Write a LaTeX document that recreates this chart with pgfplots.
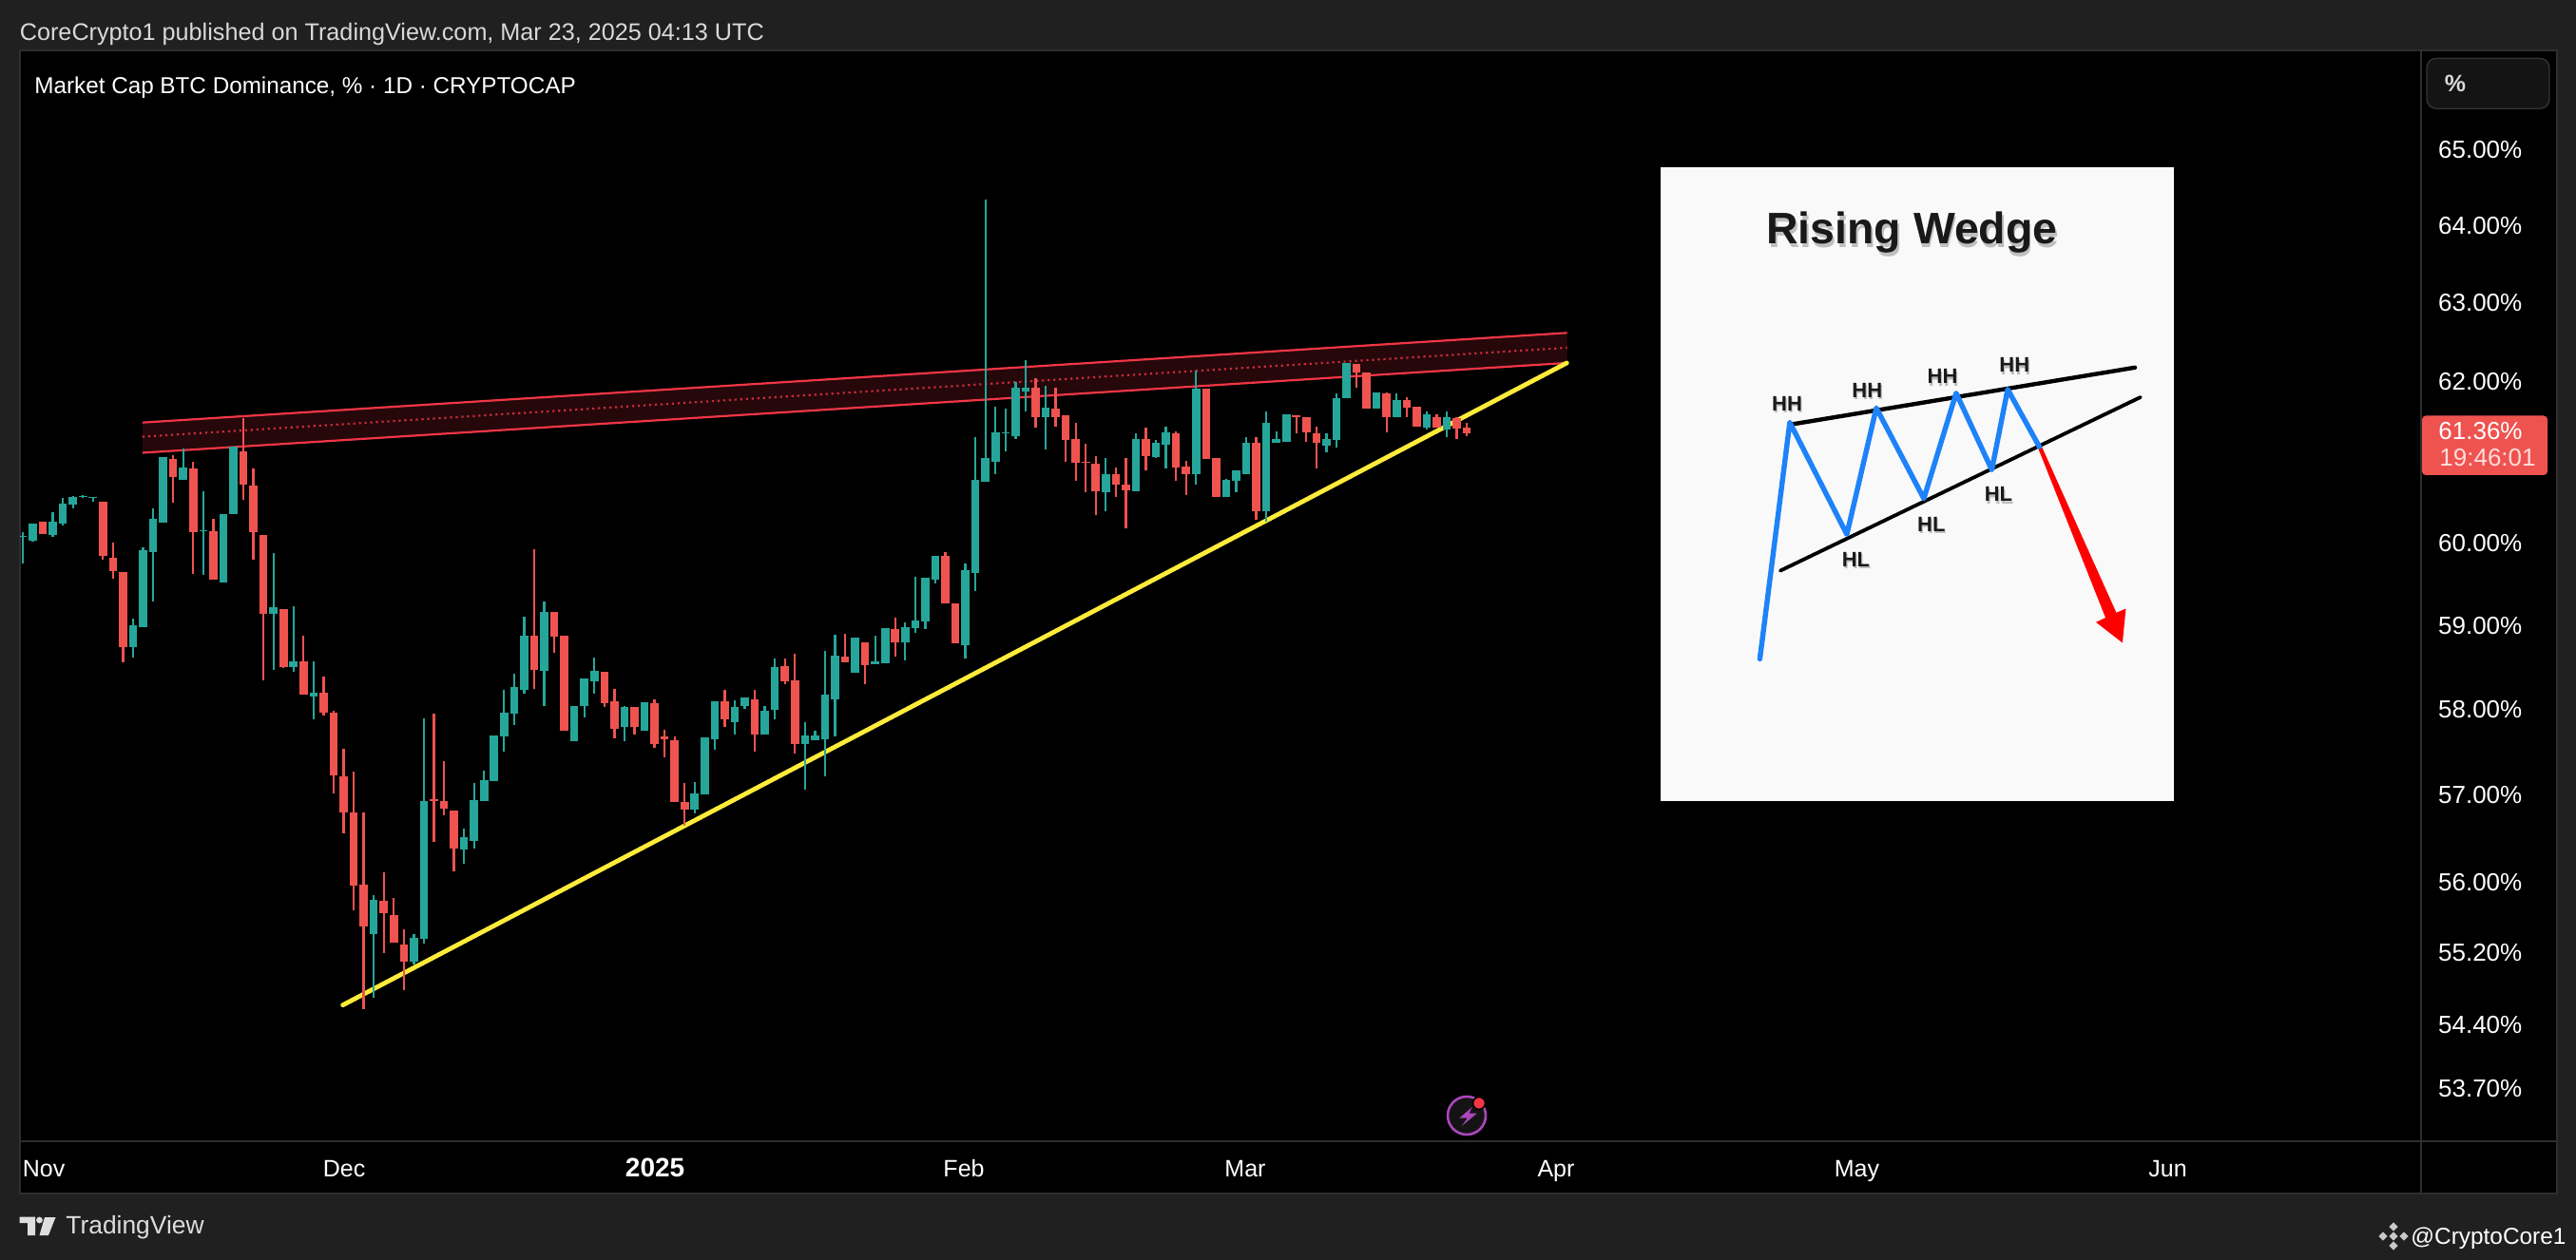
\documentclass[border=0pt]{standalone}
\usepackage{fontspec}
\setmainfont{Liberation Sans}
\usepackage{pgfplots}
\usepackage{pgfplotstable}
\pgfplotsset{compat=1.18}
\definecolor{bgc}{HTML}{202020}
\definecolor{sep}{HTML}{2E2E2E}
\definecolor{upc}{HTML}{26A69A}
\definecolor{dnc}{HTML}{EF5350}
\definecolor{chan}{HTML}{F23645}
\definecolor{yel}{HTML}{FFEB3B}
\definecolor{blu}{HTML}{1E82F8}
\definecolor{purp}{HTML}{AB47BC}
\definecolor{btnb}{HTML}{333333}
\definecolor{btnf}{HTML}{141414}
\pgfplotstableread{
x high top bot low
0 60.13 60.09 60.07 59.75
1 60.24 60.24 60.03 60.02
3 60.38 60.26 60.10 60.08
4 60.55 60.48 60.24 60.21
5 60.58 60.56 60.47 60.42
6 60.59 60.58 60.56 60.55
7 60.57 60.57 60.55 60.51
11 59.08 59.00 58.75 58.62
12 59.95 59.91 58.98 58.98
13 60.42 60.29 59.89 59.29
14 61.06 61.06 60.25 60.25
16 61.16 60.93 60.78 60.78
18 60.63 60.16 60.14 59.61
20 60.36 60.36 59.52 59.52
21 61.18 61.18 60.35 60.35
25 59.88 59.22 59.14 58.47
27 59.23 58.58 58.51 58.45
29 58.58 58.20 58.15 57.89
35 55.85 55.80 55.41 54.70
39 55.41 55.37 55.10 55.07
40 57.90 56.93 55.36 55.31
44 56.61 56.51 56.37 56.21
45 57.14 56.94 56.47 56.39
46 57.29 57.17 56.93 56.93
47 57.70 57.70 57.16 57.16
48 58.24 57.97 57.68 57.51
49 58.43 58.27 57.95 57.82
50 59.11 58.88 58.23 58.19
52 59.29 59.16 58.46 58.05
55 58.05 58.05 57.63 57.63
56 58.37 58.37 58.04 57.91
57 58.62 58.46 58.33 58.19
60 58.05 58.03 57.79 57.63
62 58.09 58.09 57.75 57.75
67 57.15 57.02 56.83 56.79
68 57.67 57.67 57.01 57.01
69 58.10 58.10 57.65 57.53
71 58.11 58.03 57.85 57.71
72 58.14 58.14 58.04 58.01
74 58.04 57.99 57.71 57.71
75 58.60 58.51 58.00 57.89
78 57.85 57.70 57.59 57.07
79 57.75 57.70 57.64 57.64
80 58.70 58.18 57.65 57.22
81 58.89 58.64 58.12 57.69
83 58.86 58.86 58.44 58.44
85 58.88 58.58 58.54 58.54
86 58.97 58.97 58.55 58.55
88 59.04 58.98 58.80 58.59
89 59.59 59.06 58.97 58.92
90 59.58 59.58 59.05 58.96
91 59.85 59.85 59.56 59.51
94 59.75 59.67 58.77 58.60
95 61.31 60.77 59.64 59.42
96 64.34 61.05 60.75 60.75
97 61.68 61.37 61.00 60.85
98 61.66 61.37 61.35 61.13
99 62.00 61.92 61.32 61.29
100 62.27 61.93 61.88 61.63
102 61.95 61.67 61.56 61.15
108 61.04 60.84 60.62 60.39
111 61.36 61.28 60.64 60.64
113 61.27 61.23 61.06 61.05
114 61.44 61.37 61.21 60.91
117 62.14 61.91 60.84 60.72
120 60.79 60.77 60.57 60.57
121 60.90 60.90 60.76 60.62
122 61.30 61.24 60.85 60.85
124 61.63 61.49 60.39 60.26
125 61.38 61.28 61.24 61.24
126 61.59 61.59 61.25 61.25
130 61.36 61.28 61.20 61.11
131 61.85 61.80 61.27 61.17
132 62.23 62.23 61.79 61.79
135 61.87 61.87 61.66 61.66
137 61.85 61.77 61.55 61.55
140 61.62 61.59 61.43 61.40
142 61.62 61.55 61.40 61.30
}\upcandles
\pgfplotstableread{
x high top bot low
2 60.26 60.26 60.11 60.11
8 60.51 60.51 59.84 59.80
9 60.01 59.82 59.66 59.57
10 59.65 59.65 58.75 58.56
15 61.08 61.03 60.81 60.49
17 61.00 60.92 60.13 59.62
19 60.29 60.14 59.56 59.56
22 61.54 61.13 60.72 60.53
23 60.92 60.70 60.13 59.80
24 60.10 60.10 59.14 58.35
26 59.20 59.20 58.51 58.49
28 58.88 58.58 58.18 58.18
30 58.39 58.20 57.96 57.93
31 57.99 57.96 57.23 57.02
32 57.54 57.22 56.80 56.56
33 57.27 56.80 55.96 55.68
34 56.80 55.97 55.50 54.57
36 56.11 55.79 55.65 55.20
37 55.82 55.63 55.32 55.32
38 55.47 55.29 55.10 54.78
41 57.95 56.95 56.93 56.46
42 57.40 56.93 56.84 56.77
43 56.82 56.82 56.39 56.12
51 59.92 58.88 58.47 58.25
53 59.16 59.16 58.87 58.67
54 58.88 58.88 57.75 57.75
58 58.45 58.45 58.07 58.03
59 58.25 58.10 57.78 57.66
61 58.03 58.03 57.80 57.71
63 58.12 58.07 57.59 57.55
64 57.76 57.69 57.65 57.44
65 57.69 57.64 56.92 56.92
66 57.14 56.92 56.83 56.64
70 58.23 58.10 57.89 57.80
73 58.23 58.12 57.71 57.51
76 58.60 58.52 58.34 58.30
77 58.66 58.35 57.60 57.49
82 58.90 58.63 58.56 58.56
84 58.80 58.80 58.53 58.30
87 59.10 58.96 58.80 58.63
92 59.89 59.85 59.27 59.27
93 59.27 59.27 58.79 58.79
101 62.04 61.92 61.56 61.42
103 61.92 61.66 61.56 61.44
104 61.58 61.58 61.27 61.00
105 61.49 61.28 60.98 60.76
106 61.22 61.00 60.98 60.62
107 61.07 60.97 60.64 60.34
109 60.93 60.84 60.72 60.56
110 61.05 60.72 60.65 60.18
112 61.43 61.29 61.07 60.90
115 61.38 61.35 60.93 60.76
116 61.01 60.94 60.85 60.59
118 61.91 61.91 61.03 61.03
119 61.04 61.04 60.57 60.57
123 61.30 61.24 60.39 60.28
127 61.58 61.58 61.55 61.36
128 61.55 61.55 61.37 61.25
129 61.44 61.36 61.24 60.92
133 62.22 62.22 62.11 61.92
134 62.11 62.11 61.66 61.66
136 61.86 61.85 61.55 61.37
138 61.81 61.77 61.67 61.55
139 61.68 61.68 61.44 61.44
141 61.59 61.56 61.42 61.42
143 61.55 61.54 61.41 61.29
144 61.48 61.42 61.35 61.32
}\dncandles
\newcommand{\wlabel}[3]{%
  \node[text=black!45,opacity=.55,font=\bfseries\fontsize{11}{12}\selectfont] at (axis cs:#1+1.2,#2+2.6) {#3};%
  \node[text=black!90,font=\bfseries\fontsize{11}{12}\selectfont] at (axis cs:#1,#2) {#3};}
\newcommand{\bdia}[2]{\fill[black!22] (#1-4.6,#2) -- (#1,#2-4.6) -- (#1+4.6,#2) -- (#1,#2+4.6) -- cycle;}
\begin{document}
\begin{tikzpicture}
\path[use as bounding box] (0,0) rectangle (1355pt,-663pt);
\begin{scope}[x=0.5pt,y=-0.5pt]
\fill[bgc] (0,0) rectangle (2710,1326);
\fill[black] (20.5,53) rectangle (2690,1256);
\draw[sep,line width=1pt] (20.5,53) rectangle (2690,1256);
\end{scope}
\begin{axis}[
  at={(10.5pt,-600pt)}, anchor=south west,
  scale only axis, width=1263pt, height=573.5pt,
  ymode=log, log basis y=10,
  xmin=-0.275, xmax=239.16, ymin=53.14, ymax=66.32,
  axis line style={draw=none}, major tick length=0pt, minor tick length=0pt,
  tick style={draw=none},
  xtick={2.1,32.05,63.05,93.85,121.9,152.9,182.9,213.9},
  xticklabels={Nov,Dec,{\fontsize{14}{15}\selectfont\textbf{2025}},Feb,Mar,Apr,May,Jun},
  xticklabel style={anchor=base,yshift=-19.5pt,text=white,font=\fontsize{12.5}{13}\selectfont},
  ytick={53.7,54.4,55.2,56,57,58,59,60,62,63,64,65},
  minor ytick={},
  yticklabels={53.70\%,54.40\%,55.20\%,56.00\%,57.00\%,58.00\%,59.00\%,60.00\%,62.00\%,63.00\%,64.00\%,65.00\%},
  yticklabel pos=right,
  yticklabel style={anchor=west,xshift=5.5pt,text=white,font=\fontsize{13}{14}\selectfont},
  grid=none,
]
% resistance channel
\addplot[fill=chan,fill opacity=.16,draw=none,forget plot] coordinates {(11.95,61.49) (154,62.62) (154,62.24) (11.95,61.11)} --cycle;
\addplot[chan,line width=1.1pt,forget plot] coordinates {(11.95,61.49) (154,62.62)};
\addplot[chan,line width=1.1pt,forget plot] coordinates {(11.95,61.11) (154,62.24)};
\addplot[chan,line width=1.1pt,dash pattern=on 1.1pt off 1.9pt,opacity=.8,forget plot] coordinates {(11.95,61.31) (154,62.43)};
% support line
\addplot[yel,line width=2.4pt,line cap=round,forget plot] coordinates {(31.92,54.62) (153.97,62.24)};
% wicks
\addplot[draw=none,mark=none,forget plot,error bars/.cd,y dir=minus,y explicit,error mark=none,
  error bar style={draw=upc,line width=1.15pt}]
  table[x=x,y=high,y error minus expr=\thisrow{high}-\thisrow{low}] {\upcandles};
\addplot[draw=none,mark=none,forget plot,error bars/.cd,y dir=minus,y explicit,error mark=none,
  error bar style={draw=dnc,line width=1.15pt}]
  table[x=x,y=high,y error minus expr=\thisrow{high}-\thisrow{low}] {\dncandles};
% bodies
\addplot[draw=none,mark=none,forget plot,error bars/.cd,y dir=minus,y explicit,error mark=none,
  error bar style={draw=upc,line width=4.3pt}]
  table[x=x,y=top,y error minus expr=\thisrow{top}-\thisrow{bot}] {\upcandles};
\addplot[draw=none,mark=none,forget plot,error bars/.cd,y dir=minus,y explicit,error mark=none,
  error bar style={draw=dnc,line width=4.3pt}]
  table[x=x,y=top,y error minus expr=\thisrow{top}-\thisrow{bot}] {\dncandles};
\end{axis}
% inset pattern
\begin{axis}[
  at={(873.5pt,-421.5pt)}, anchor=south west,
  scale only axis, width=270pt, height=333.5pt,
  xmin=1747, xmax=2287, ymin=176, ymax=843, y dir=reverse,
  hide axis, clip=true,
]
\addplot[fill=black!2.5,draw=none,forget plot] coordinates {(1747,176) (2287,176) (2287,843) (1747,843)} --cycle;
\addplot[black,line width=2.2pt,line cap=round,forget plot] coordinates {(1887,446.2) (2246,386.8)};
\addplot[black,line width=1.9pt,line cap=round,forget plot] coordinates {(1872.9,600.6) (2251.8,418)};
\addplot[fill=red,draw=none,forget plot] coordinates {(2143.5,470) (2147.5,469) (2226.4,644.8) (2236.4,640.5) (2232.9,676.5) (2205,654.8) (2215,650)} --cycle;
\addplot[blu,line width=2.7pt,line cap=round,line join=round,forget plot] coordinates {(1851.4,693.4) (1882.9,444.5) (1942.9,562.4) (1973.9,429.3) (2023.9,524.7) (2057.9,413.7) (2095.4,494.4) (2112.1,409.8) (2145.4,470.1)};
\wlabel{1880}{424.5}{HH}
\wlabel{1964.3}{410.7}{HH}
\wlabel{2043.6}{396}{HH}
\wlabel{2119.3}{384.2}{HH}
\wlabel{1952.5}{588.5}{HL}
\wlabel{2031.8}{551.6}{HL}
\wlabel{2102.5}{520.4}{HL}
\node[text=black!40,opacity=.6,font=\bfseries\fontsize{23.2}{24}\selectfont] at (axis cs:2013,249) {Rising Wedge};
\node[text=black!90,font=\bfseries\fontsize{23.2}{24}\selectfont] at (axis cs:2011.4,245) {Rising Wedge};
\end{axis}
\begin{scope}[x=0.5pt,y=-0.5pt]
\draw[sep,line width=1pt] (20.5,1200.5) -- (2690,1200.5);
\draw[sep,line width=.8pt] (2547,53) -- (2547,1256);
% header and footer texts
\node[anchor=west,inner sep=0,text=black!15!white,font=\fontsize{12.6}{13}\selectfont] at (20.5,36) {CoreCrypto1 published on TradingView.com, Mar 23, 2025 04:13 UTC};
\node[anchor=west,inner sep=0,text=white,font=\fontsize{12.13}{13}\selectfont] at (36,92.5) {Market Cap BTC Dominance, \% · 1D · CRYPTOCAP};
\node[anchor=west,inner sep=0,text=black!13,font=\fontsize{13.2}{15}\selectfont] at (69,1292) {TradingView};
\fill[black!13] (20.7,1280.7) rectangle (37,1287) (29,1287) rectangle (37,1300);
\fill[black!13] (41.5,1284) circle[radius=3.4];
\fill[black!13] (47,1281) -- (58.5,1281) -- (51,1300) -- (41.5,1300) -- cycle;
\node[anchor=west,inner sep=0,text=white,font=\fontsize{12.2}{14}\selectfont] at (2536,1303) {@CryptoCore1};
\bdia{2518}{1291}\bdia{2518}{1311}\bdia{2507}{1301}\bdia{2529}{1301}\bdia{2518}{1301}
% unit button
\draw[draw=btnb,fill=btnf,line width=.7pt,rounded corners=5pt] (2553,61.4) rectangle (2682,114.3);
\node[anchor=center,inner sep=0,text=black!15,font=\bfseries\fontsize{12.5}{13}\selectfont] at (2583,87.5) {\%};
% last price label
\fill[dnc,rounded corners=2pt] (2548,437.5) -- (2680,437.5) -- (2680,500) -- (2548,500) -- cycle;
\node[anchor=west,inner sep=0,text=white,font=\fontsize{13}{14}\selectfont] at (2565,454) {61.36\%};
\node[anchor=west,inner sep=0,text=white!80!dnc,font=\fontsize{13}{14}\selectfont] at (2566,482) {19:46:01};
% lightning badge
\draw[draw=purp,fill=black!92!white,line width=1.3pt] (1543,1174) circle[radius=20];
\fill[purp] (1548.7,1165) -- (1535.3,1176.7) -- (1543.7,1176.7) -- (1537.8,1185) -- (1553.7,1171.7) -- (1545.4,1171.7) -- cycle;
\fill[chan,draw=black,line width=.8pt] (1556,1161) circle[radius=6.5];
\end{scope}
\end{tikzpicture}
\end{document}
